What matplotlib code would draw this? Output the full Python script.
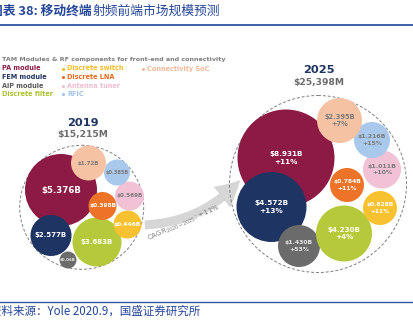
import matplotlib
matplotlib.use("Agg")
import matplotlib.pyplot as plt
from matplotlib.patches import Circle, FancyArrowPatch

# data (values in $B, CAGR in %)
segments = ['PA module', 'FEM module', 'AiP module', 'Discrete filter',
            'Discrete switch', 'Discrete LNA', 'Antenna tuner', 'RFIC',
            'Connectivity SoC']
values_2019 = [5.376, 2.577, 0.06, 3.683, 0.446, 0.398, 0.569, 0.385, 1.72]
values_2025 = [8.931, 4.572, 1.430, 4.230, 0.828, 0.784, 1.011, 1.216, 2.395]
labels_2019 = ['$5.376B', '$2.577B', '$0.06B', '$3.683B', '$0.446B',
               '$0.398B', '$0.569B', '$0.385B', '$1.72B']
growth_2025 = [11, 13, 53, 4, 11, 11, 10, 15, 7]
total_2019 = '$15,215M'
total_2025 = '$25,398M'
cagr_label = 'CAGR$_{\\mathregular{2020-2025}}$: +11%'

colors = ['#8c1a44', '#1e3463', '#6b6b6b', '#b6c93a', '#f8c12f',
          '#ec7328', '#f1c1d5', '#a9c9ec', '#f6c2a4']
text_colors = ['white', 'white', '#e6e6e6', 'white', 'white', 'white',
               '#7a7a7a', '#7a7a7a', '#7a7a7a']

# bubble layout (pixel space): cx, cy, r, label font size
layout_2019 = [(61, 190, 36, 6.2), (51, 235.5, 20.5, 5.0), (68, 260, 8.5, 2.9),
               (97, 242, 24.5, 5.0), (127.5, 224.5, 14, 4.2), (102.5, 206, 14, 4.2),
               (129.5, 196, 14.5, 4.1), (117, 172.5, 13, 3.6), (88.5, 163, 17.5, 4.0)]
layout_2025 = [(286, 158, 48.5, 5.2), (271.5, 207, 35, 5.3), (299, 246, 21, 4.4),
               (344, 233.5, 28, 5.1), (380, 208, 17, 4.2), (347, 185, 17, 4.3),
               (382, 169.5, 19, 4.5), (372, 140, 18, 4.4), (339.5, 120.5, 22.5, 4.8)]

cjk = ['Noto Sans CJK SC', 'DejaVu Sans']
blue = '#24469a'

fig = plt.figure(figsize=(4.13, 3.27), dpi=100)
ax = fig.add_axes([0, 0, 1, 1])
ax.set_xlim(0, 413)
ax.set_ylim(327, 0)
ax.set_aspect('equal')
ax.axis('off')

# title + rules
t1 = ax.text(-9.5, 11, '图表 38: 移动终端', family=cjk, fontsize=9.2,
             fontweight='bold', color=blue, va='center', ha='left')
ax.annotate('射频前端市场规模预测', xy=(1, 0.5), xycoords=t1, va='center',
            ha='left', family=cjk, fontsize=9.2, color=blue)
ax.plot([0, 413], [24.5, 24.5], color='#2e55a0', lw=1.3)
ax.plot([0, 413], [301.5, 301.5], color='#2e55a0', lw=1.0)
ax.text(-10, 311, '资料来源：Yole 2020.9，国盛证券研究所', family=cjk,
        fontsize=8.3, color=blue, va='center', ha='left')

# legend
ax.text(2, 60, 'TAM Modules & RF components for front-end and connectivity',
        fontsize=4.55, fontweight='bold', color='#7f7f7f', va='center')
legend_cols = [(2, [0, 1, 2, 3], False), (63, [4, 5, 6, 7], True), (143, [8], True)]
legend_colors = ['#8c1a44', '#1e3463', '#595959', '#a9c22a', '#f5bd22',
                 '#ec6a1c', '#f0bcd0', '#9fc3ea', '#f3b99a']
rows_y = [68.5, 77, 85.5, 94]
for x0, idx, bullet in legend_cols:
    for row, i in enumerate(idx):
        tx = x0
        if bullet:
            ax.plot(x0, rows_y[row], 'o', ms=2.2, color=legend_colors[i], mec='none')
            tx = x0 + 4
        ax.text(tx, rows_y[row], segments[i], fontsize=4.7, fontweight='bold',
                color=legend_colors[i], va='center')


def draw_year(year, total, labels, layout, outer, year_y, total_y):
    ocx, ocy, orad = outer
    ax.add_patch(Circle((ocx, ocy), orad, fill=False, ec='#808080', lw=0.7,
                        ls=(0, (3, 2)), zorder=1))
    ax.text(ocx + 1, year_y, year, fontsize=8.2, fontweight='bold',
            color='#1e3463', ha='center', va='center')
    ax.text(ocx + 1, total_y, total, fontsize=6.6, fontweight='bold',
            color='#6b6b6b', ha='center', va='center')
    for k, (cx, cy, r, fs) in enumerate(layout):
        ax.add_patch(Circle((cx, cy), r, color=colors[k], ec='none', zorder=2 + k * 0.01))
        ax.text(cx, cy, labels[k], fontsize=fs, fontweight='bold', color=text_colors[k],
                ha='center', va='center', linespacing=1.3, zorder=3)


labels_2025 = ['$%.3fB\n+%d%%' % (v, g) for v, g in zip(values_2025, growth_2025)]
draw_year('2019', total_2019, labels_2019, layout_2019, (81.7, 207.3, 62), 123, 134.5)
draw_year('2025', total_2025, labels_2025, layout_2025, (318, 184, 88.5), 70, 83)

# growth arrow
arrow = FancyArrowPatch((142, 225), (242, 178), connectionstyle='arc3,rad=0.22',
                        arrowstyle='simple,head_width=19,head_length=18,tail_width=6.5',
                        color='#d6d6d6', lw=0, zorder=0.5)
ax.add_patch(arrow)
ax.text(184, 223, cagr_label, fontsize=5.0, color='#7f7f7f', rotation=24,
        ha='center', va='center', rotation_mode='anchor')

fig.savefig('out.png', dpi=100)
